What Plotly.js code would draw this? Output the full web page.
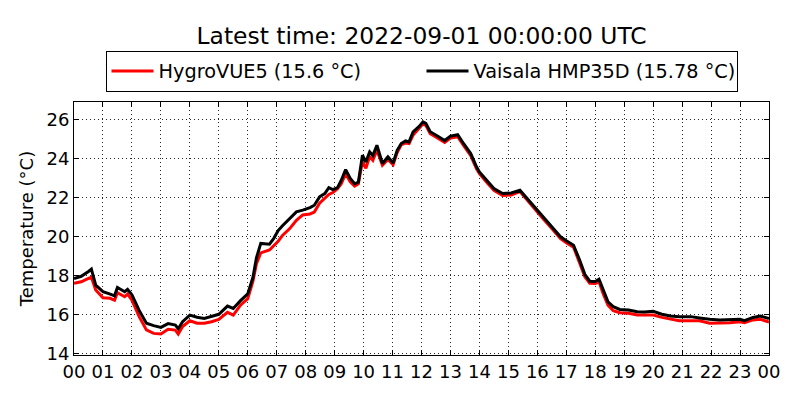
<!doctype html>
<html>
<head>
    <meta charset="utf-8">
    <title>Temperature</title>
    <style>
        body {margin: 0; background: #fff;}
    </style>
    <script src="https://cdn.plot.ly/plotly-3.0.1.min.js"></script>
</head>
<body>
    <div id="temp_plot"></div>
    <script>
        // ====== DATA ==================================================
        // hours since 2022-08-31 00:00 UTC
        let hours = [
            0, 0.25, 0.5, 0.6, 0.75, 1.0, 1.25, 1.4, 1.5, 1.75, 1.85, 2.0, 2.25, 2.5, 2.75,
            3.0, 3.25, 3.5, 3.6, 3.75, 4.0, 4.25, 4.5, 4.75, 5.0, 5.3, 5.5, 5.75, 6.0, 6.18,
            6.3, 6.45, 6.75, 6.9, 7.05, 7.2, 7.45, 7.68, 7.9, 8.15, 8.3, 8.48, 8.66, 8.8,
            8.94, 9.1, 9.23, 9.38, 9.54, 9.69, 9.82, 9.96, 10.08, 10.21, 10.32, 10.46, 10.65,
            10.84, 11.02, 11.16, 11.3, 11.45, 11.57, 11.71, 11.92, 12.05, 12.15, 12.3, 12.55,
            12.8, 13.0, 13.25, 13.45, 13.7, 13.9, 14.0, 14.25, 14.5, 14.8, 15.1, 15.4, 15.62,
            15.9, 16.2, 16.5, 16.8, 17.0, 17.25, 17.47, 17.64, 17.81, 18.0, 18.13, 18.27,
            18.44, 18.62, 18.85, 19.15, 19.45, 19.7, 20.0, 20.3, 20.6, 20.9, 21.3, 21.6,
            21.95, 22.3, 22.65, 23.0, 23.15, 23.45, 23.7, 24.0
        ];

        let hygrovue = [
            17.59, 17.67, 17.84, 17.9, 17.25, 16.85, 16.82, 16.72, 17.11, 16.9, 17.04, 16.73, 15.88, 15.2, 15.02,
            14.99, 15.23, 15.19, 14.99, 15.37, 15.67, 15.54, 15.54, 15.62, 15.74, 16.1, 15.96, 16.47, 16.8, 17.7,
            18.6, 19.15, 19.3, 19.5, 19.75, 20.05, 20.4, 20.83, 21.1, 21.15, 21.25, 21.7, 21.95, 22.15,
            22.25, 22.45, 22.7, 23.22, 22.8, 22.58, 22.7, 23.85, 23.5, 24.1, 23.9, 24.42, 23.65,
            23.95, 23.68, 24.3, 24.7, 24.8, 24.77, 25.2, 25.55, 25.78, 25.7, 25.27, 25.05,
            24.82, 25.05, 25.12, 24.67, 24.15, 23.47, 23.22, 22.78, 22.36, 22.1, 22.13, 22.3, 21.9,
            21.42, 20.9, 20.4, 19.88, 19.68, 19.45, 18.6, 17.93, 17.59, 17.58, 17.67, 17.07,
            16.47, 16.18, 16.08, 16.05, 15.96, 15.96, 15.96, 15.84, 15.74, 15.67, 15.67, 15.67,
            15.54, 15.54, 15.57, 15.62, 15.57, 15.71, 15.74, 15.6
        ];

        let vaisala = [
            17.84, 17.95, 18.2, 18.32, 17.5, 17.16, 17.04, 16.95, 17.38, 17.16, 17.28, 17.0, 16.2, 15.54, 15.42,
            15.33, 15.52, 15.45, 15.26, 15.62, 15.96, 15.85, 15.79, 15.88, 16.0, 16.42, 16.3, 16.7, 17.05, 17.9,
            18.9, 19.64, 19.6, 19.9, 20.3, 20.55, 20.92, 21.26, 21.35, 21.48, 21.6, 22.03, 22.2, 22.5,
            22.4, 22.5, 22.88, 23.43, 22.97, 22.7, 22.78, 24.17, 23.82, 24.34, 24.15, 24.68, 23.74,
            24.08, 23.77, 24.42, 24.77, 24.9, 24.85, 25.36, 25.65, 25.88, 25.8, 25.37, 25.15,
            24.92, 25.15, 25.22, 24.77, 24.25, 23.57, 23.31, 22.88, 22.46, 22.2, 22.23, 22.37, 22.0,
            21.52, 21.0, 20.49, 19.98, 19.78, 19.55, 18.75, 18.05, 17.7, 17.68, 17.8, 17.24,
            16.64, 16.39, 16.25, 16.22, 16.13, 16.12, 16.15, 16.0, 15.91, 15.88, 15.88, 15.81,
            15.74, 15.71, 15.71, 15.74, 15.67, 15.84, 15.91, 15.78
        ];

        let tickHours = [0, 1, 2, 3, 4, 5, 6, 7, 8, 9, 10, 11, 12, 13, 14, 15, 16, 17, 18, 19, 20, 21, 22, 23, 24];
        let tickLabels = ['00', '01', '02', '03', '04', '05', '06', '07', '08', '09', '10', '11',
            '12', '13', '14', '15', '16', '17', '18', '19', '20', '21', '22', '23', '00'];

        let titleText = 'Latest time: 2022-09-01 00:00:00 UTC';
        let nameHygro = 'HygroVUE5 (15.6 °C)';
        let nameVaisala = 'Vaisala HMP35D (15.78 °C)';

        // ====== SETTINGS ==============================================
        let font = 'DejaVu Sans, Arial, sans-serif';

        let axisCommon = {
            showline: true,
            linecolor: 'black',
            linewidth: 1,
            mirror: 'allticks',
            ticks: 'inside',
            ticklen: 5,
            tickcolor: 'black',
            showgrid: true,
            gridcolor: 'rgba(0,0,0,0.85)',
            griddash: '1px,3px',
            gridwidth: 1,
            zeroline: false,
            tickfont: {size: 18, color: 'black'},
        };

        let layout = {
            width: 800,
            height: 400,
            margin: {l: 74, r: 31, t: 102, b: 45},
            paper_bgcolor: 'white',
            plot_bgcolor: 'white',
            font: {family: font, color: 'black'},
            title: {
                text: titleText,
                font: {size: 23.4, color: 'black'},
                x: 0.527,
                xanchor: 'center',
                y: 0.91,
                yanchor: 'middle',
            },
            xaxis: Object.assign({}, axisCommon, {
                range: [0, 24],
                tickmode: 'array',
                tickvals: tickHours,
                ticktext: tickLabels,
            }),
            yaxis: Object.assign({}, axisCommon, {
                range: [13.91, 26.9],
                tickmode: 'linear',
                tick0: 14,
                dtick: 2,
                title: {text: 'Temperature (°C)', font: {size: 18}, standoff: 8},
            }),
            showlegend: true,
            legend: {
                orientation: 'h',
                x: 0.5,
                xanchor: 'center',
                y: 1.04,
                yanchor: 'bottom',
                bordercolor: 'black',
                borderwidth: 1,
                font: {size: 19.3, color: 'black'},
                itemwidth: 42,
                entrywidth: 258,
                entrywidthmode: 'pixels',
                traceorder: 'normal',
            },
        };

        let config = {displayModeBar: false, staticPlot: true};

        // ====== PLOT ==================================================
        let traces = [
            {
                x: hours,
                y: hygrovue,
                type: 'scatter',
                mode: 'lines',
                name: nameHygro,
                line: {color: '#ff0000', width: 3},
            },
            {
                x: hours,
                y: vaisala,
                type: 'scatter',
                mode: 'lines',
                name: nameVaisala,
                line: {color: '#000000', width: 3},
            },
        ];

        Plotly.newPlot(document.getElementById('temp_plot'), traces, layout, config);
    </script>
</body>
</html>
